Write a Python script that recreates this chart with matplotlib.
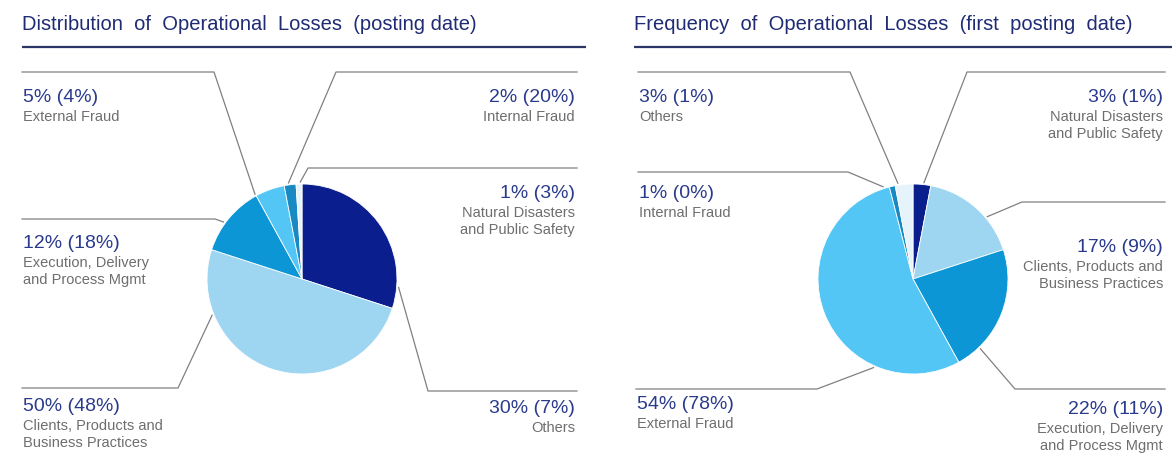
import numpy as np
import matplotlib.pyplot as plt

plt.rcParams['font.family'] = ['Liberation Sans', 'DejaVu Sans']

# slices run clockwise from 12 o'clock
dist_labels = ["Others", "Clients, Products and\nBusiness Practices",
               "Execution, Delivery\nand Process Mgmt", "External Fraud",
               "Internal Fraud", "Natural Disasters\nand Public Safety"]
dist_share = [30, 50, 12, 5, 2, 1]
dist_prev = [7, 48, 18, 4, 20, 3]

freq_labels = ["Natural Disasters\nand Public Safety", "Clients, Products and\nBusiness Practices",
               "Execution, Delivery\nand Process Mgmt", "External Fraud",
               "Internal Fraud", "Others"]
freq_share = [3, 17, 22, 54, 1, 3]
freq_prev = [1, 9, 11, 78, 0, 1]

slice_colors = ['#0B1E8E', '#9ED6F2', '#0D96D5', '#53C6F6', '#1989C4', '#E6F3FA']

NAVY = '#1F2B73'
VALUE_COL = '#2A3A8C'
GREY = '#6E6E6E'
LINE_COL = '#808080'
R = 95

# leader layout: attach angle (deg clockwise from top), elbow, line end x, text y, side
dist_layout = [
    (95, (428, 392), 577, 409, 'right'),
    (248, (178, 389), 22, 407, 'left'),
    (306, (215, 220), 22, 244, 'left'),
    (331, (214, 73), 22, 98, 'left'),
    (352, (336, 73), 577, 98, 'right'),
    (359, (308, 169), 577, 194, 'right'),
]
freq_layout = [
    (6.5, (967, 73), 1165, 98, 'right'),
    (50, (1022, 203), 1165, 248, 'right'),
    (136, (1015, 390), 1165, 410, 'right'),
    (204, (817, 390), 636, 405, 'left'),
    (342, (848, 173), 638, 194, 'left'),
    (351, (850, 73), 638, 98, 'left'),
]

fig = plt.figure(figsize=(11.76, 4.56), dpi=100)
ax = fig.add_axes([0, 0, 1, 1])


def draw_panel(title, tx, line_end, center, labels, share, prev, layout):
    cx, cy = center
    ax.text(tx, 25, title, fontsize=14.5, color=NAVY, ha='left', va='center')
    ax.plot([tx, line_end], [48, 48], color='#2B3566', lw=1.6, solid_capstyle='butt')
    # y axis is inverted, so this runs clockwise from the top
    ax.pie(share, colors=slice_colors, startangle=-90, counterclock=True,
           center=center, radius=R,
           wedgeprops=dict(edgecolor='white', linewidth=0.6))
    for lab, s, p, (ang, elbow, xe, ty, side) in zip(labels, share, prev, layout):
        a = np.radians(ang)
        px = cx + (R + 2) * np.sin(a)
        py = cy - (R + 2) * np.cos(a)
        ax.plot([px, elbow[0], xe], [py, elbow[1], elbow[1]], color=LINE_COL, lw=0.9)
        if side == 'left':
            x, ha = xe + 1, 'left'
        else:
            x, ha = xe - 2, 'right'
        ax.text(x, ty, f"{s}% ({p}%)", fontsize=14, color=VALUE_COL, ha=ha, va='center')
        ax.text(x, ty + 12, lab, fontsize=10.5, color=GREY, ha=ha, va='top',
                linespacing=1.25, multialignment=ha)


draw_panel("Distribution  of  Operational  Losses  (posting date)", 22, 586, (302, 280),
           dist_labels, dist_share, dist_prev, dist_layout)
draw_panel("Frequency  of  Operational  Losses  (first  posting  date)", 634, 1172, (913, 280),
           freq_labels, freq_share, freq_prev, freq_layout)

ax.set_xlim(0, 1176)
ax.set_ylim(456, 0)
ax.set_aspect('equal')
ax.axis('off')

fig.savefig('out.png', dpi=100, facecolor='white')
